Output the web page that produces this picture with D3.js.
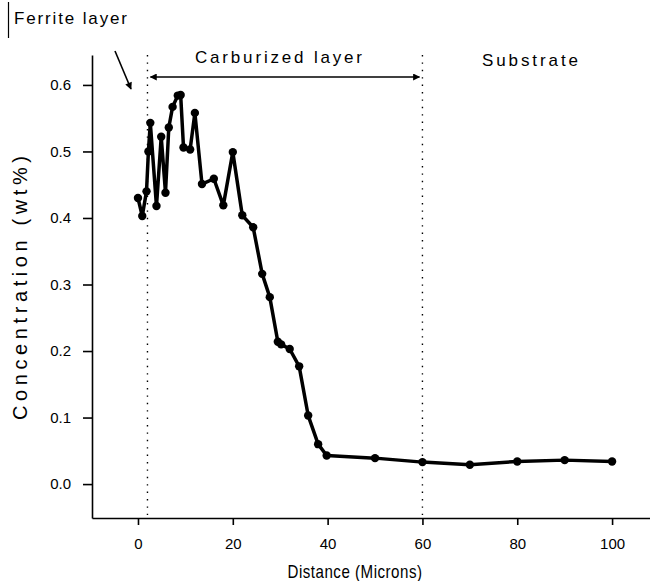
<!DOCTYPE html>
<html><head><meta charset="utf-8">
<script src="https://cdn.jsdelivr.net/npm/d3@7"></script>
<style>body{margin:0;background:#fff}svg{display:block}text{font-family:"Liberation Sans",Arial,sans-serif;fill:#000}</style>
</head><body><svg id="c" width="650" height="581"></svg>
<script>
// Data: distance (microns) vs carbon concentration (wt%)
const distance = [0, 0.9, 1.8, 2.2, 2.6, 3.9, 4.9, 5.8, 6.5, 7.3, 8.4, 9.0, 9.6, 11.0, 12.0, 13.5, 16.0, 18.0, 20.0, 22.0, 24.3, 26.2, 27.8, 29.5, 30.2, 32.0, 34.0, 35.9, 38.0, 39.8, 50, 60, 70, 80, 90, 100];
const concentration = [0.43, 0.403, 0.44, 0.50, 0.543, 0.418, 0.522, 0.438, 0.536, 0.567, 0.584, 0.585, 0.506, 0.503, 0.558, 0.451, 0.459, 0.419, 0.499, 0.404, 0.386, 0.316, 0.281, 0.214, 0.21, 0.203, 0.177, 0.103, 0.06, 0.043, 0.039, 0.033, 0.029, 0.034, 0.036, 0.034];
const xTicks = [0, 20, 40, 60, 80, 100];
const yTicks = [0.0, 0.1, 0.2, 0.3, 0.4, 0.5, 0.6];
const layerBounds = [2, 60];
const labels = {x: "Distance (Microns)", y: "Concentration  (wt%)", ferrite: "Ferrite layer", carb: "Carburized layer", sub: "Substrate"};

const svg = d3.select("#c");
const x = d3.scaleLinear().domain([-9.7, 108]).range([92, 650]);
const y = d3.scaleLinear().domain([-0.051, 0.645]).range([518, 55]);

// axes
const xa = svg.append("g").attr("transform", "translate(0,518)")
  .call(d3.axisBottom(x).tickValues(xTicks).tickFormat(d3.format("d")).tickSize(7).tickSizeOuter(0));
const ya = svg.append("g").attr("transform", "translate(92,0)")
  .call(d3.axisLeft(y).tickValues(yTicks).tickFormat(d3.format(".1f")).tickSize(9).tickSizeOuter(0));
[xa, ya].forEach(g => {
  g.select(".domain").attr("stroke", "#000").attr("stroke-width", 1.6);
  g.selectAll(".tick line").attr("stroke", "#000").attr("stroke-width", 1.6);
  g.selectAll(".tick text").attr("font-size", 15).attr("fill", "#000")
   .style("font-family", "'Liberation Sans',Arial,sans-serif");
});
xa.selectAll(".tick text").attr("dy", "1.4em");
ya.selectAll(".tick text").attr("dx", "-0.6em");

// dotted boundaries
svg.append("g").selectAll("line").data(layerBounds).join("line")
  .attr("x1", d => x(d)).attr("x2", d => x(d))
  .attr("y1", 55).attr("y2", 515)
  .attr("stroke", "#000").attr("stroke-width", 1.4).attr("stroke-dasharray", "1.4,6");

// arrow markers
const defs = svg.append("defs");
defs.append("marker").attr("id", "ah").attr("viewBox", "0 0 10 10").attr("refX", 9).attr("refY", 5)
  .attr("markerWidth", 9).attr("markerHeight", 7).attr("markerUnits", "userSpaceOnUse").attr("orient", "auto-start-reverse")
  .append("path").attr("d", "M0,0L10,5L0,10z").attr("fill", "#000");

svg.append("line").attr("x1", x(layerBounds[0]) + 3).attr("x2", x(layerBounds[1]) - 3)
  .attr("y1", 77).attr("y2", 77).attr("stroke", "#000").attr("stroke-width", 1.6)
  .attr("marker-start", "url(#ah)").attr("marker-end", "url(#ah)");

svg.append("line").attr("x1", 115).attr("y1", 51).attr("x2", 131).attr("y2", 89)
  .attr("stroke", "#000").attr("stroke-width", 1.6).attr("marker-end", "url(#ah)");

// left edge line
svg.append("line").attr("x1", 8.5).attr("x2", 8.5).attr("y1", 2).attr("y2", 38).attr("stroke", "#000").attr("stroke-width", 1.2);

// texts
svg.append("text").attr("x", 14).attr("y", 24).attr("font-size", 17).attr("textLength", 113).attr("lengthAdjust", "spacing").text(labels.ferrite);
svg.append("text").attr("x", 195).attr("y", 63).attr("font-size", 17).attr("textLength", 167).attr("lengthAdjust", "spacing").text(labels.carb);
svg.append("text").attr("x", 482).attr("y", 66).attr("font-size", 17).attr("textLength", 96).attr("lengthAdjust", "spacing").text(labels.sub);
svg.append("text").attr("transform", "translate(355,578) scale(0.84,1)").attr("text-anchor", "middle")
  .attr("font-size", 18).attr("letter-spacing", 0.6).text(labels.x);
svg.append("text").attr("transform", "translate(27,420) rotate(-90)").attr("font-size", 20)
  .attr("textLength", 264).attr("lengthAdjust", "spacing").text(labels.y);

// data line + markers
const pts = distance.map((d, i) => [d, concentration[i]]);
svg.append("path").datum(pts)
  .attr("d", d3.line().x(d => x(d[0])).y(d => y(d[1])))
  .attr("fill", "none").attr("stroke", "#000").attr("stroke-width", 3.5).attr("stroke-linejoin", "round");
svg.append("g").selectAll("circle").data(pts).join("circle")
  .attr("cx", d => x(d[0])).attr("cy", d => y(d[1])).attr("r", 4.2).attr("fill", "#000");
</script></body></html>
